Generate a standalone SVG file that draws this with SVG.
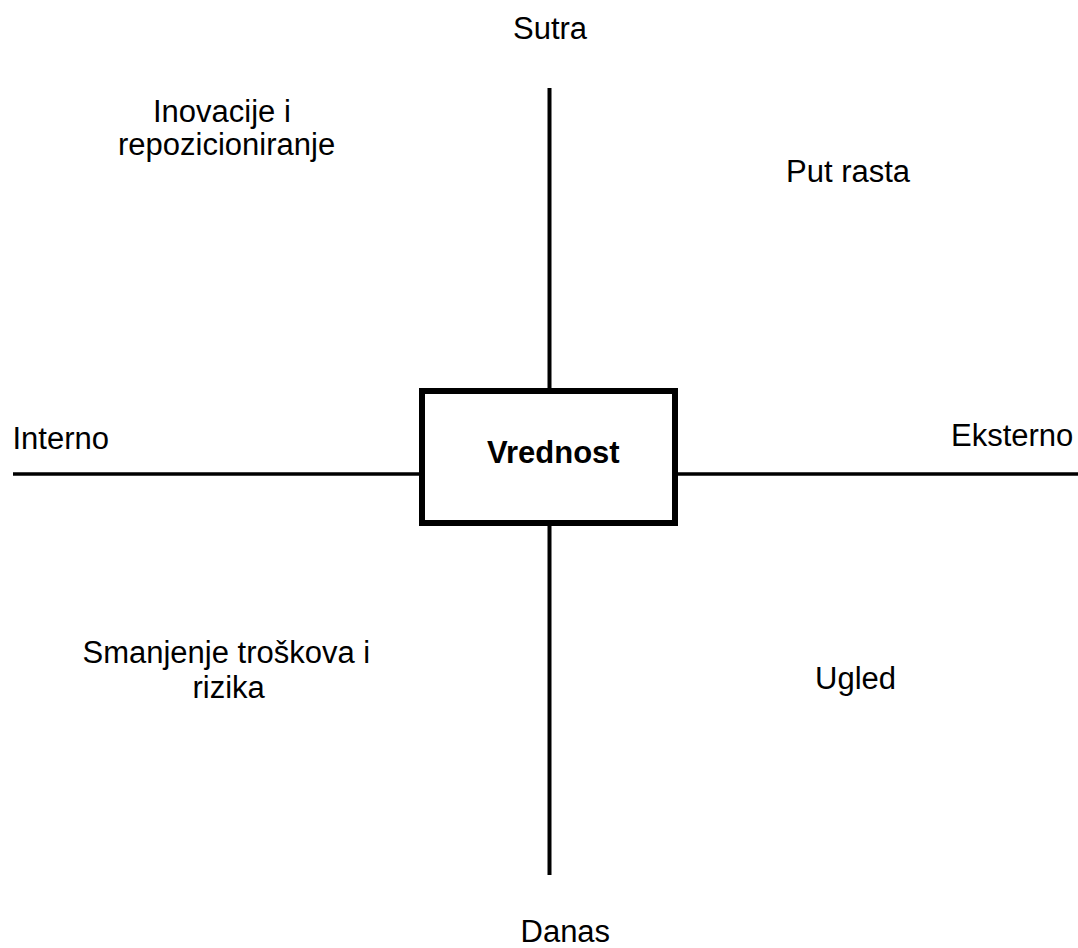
<svg xmlns="http://www.w3.org/2000/svg" width="1078" height="948" viewBox="0 0 1078 948">
<style>
.t{font-family:"Liberation Sans",Arial,sans-serif;font-size:31px;fill:#000}
.b{font-weight:bold}
.ax{stroke:#000;fill:none}
</style>
<rect width="1078" height="948" fill="#fff"/>
<g id="connectors">
<line class="ax" x1="549.5" y1="88" x2="549.5" y2="388" stroke-width="4"/>
<line class="ax" x1="549.5" y1="526" x2="549.5" y2="875" stroke-width="4"/>
<line class="ax" x1="13" y1="474" x2="419" y2="474" stroke-width="3.5"/>
<line class="ax" x1="678" y1="474" x2="1078" y2="474" stroke-width="3.5"/>
</g>
<g id="vrednost">
<rect x="422" y="391" width="253" height="132" fill="#fff" stroke="#000" stroke-width="6"/>
<text class="t b" x="487" y="463">Vrednost</text>
</g>
<g id="sutra"><text class="t" x="513" y="39">Sutra</text></g>
<g id="danas"><text class="t" x="520.5" y="942">Danas</text></g>
<g id="interno"><text class="t" x="12.5" y="449">Interno</text></g>
<g id="eksterno"><text class="t" x="951" y="446">Eksterno</text></g>
<g id="inovacije">
<text class="t" x="153" y="122">Inovacije i</text>
<text class="t" x="118" y="155">repozicioniranje</text>
</g>
<g id="put-rasta"><text class="t" x="786" y="182">Put rasta</text></g>
<g id="smanjenje">
<text class="t" x="82.5" y="663">Smanjenje troškova i</text>
<text class="t" x="192.5" y="698">rizika</text>
</g>
<g id="ugled"><text class="t" x="815" y="689">Ugled</text></g>
</svg>
